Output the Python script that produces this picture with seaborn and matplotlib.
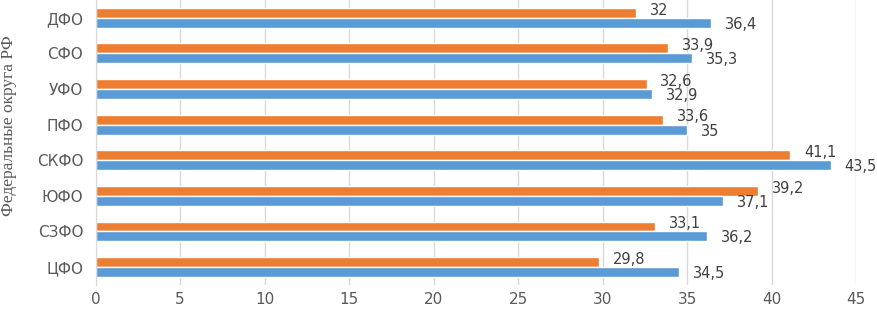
import pandas as pd
import matplotlib.pyplot as plt
import seaborn as sns

# Data
districts = ["ДФО", "СФО", "УФО", "ПФО", "СКФО", "ЮФО", "СЗФО", "ЦФО"]
series_orange = [32, 33.9, 32.6, 33.6, 41.1, 39.2, 33.1, 29.8]
series_blue = [36.4, 35.3, 32.9, 35, 43.5, 37.1, 36.2, 34.5]
series_names = ["Ряд 2", "Ряд 1"]
x_ticks = [0, 5, 10, 15, 20, 25, 30, 35, 40, 45]

ORANGE = "#ED7D31"
BLUE = "#5B9BD5"

df = pd.DataFrame({
    "district": districts * 2,
    "value": series_orange + series_blue,
    "series": [series_names[0]] * len(districts) + [series_names[1]] * len(districts),
})

sns.set_style("white")
plt.rcParams["font.family"] = ["DejaVu Sans"]

fig = plt.figure(figsize=(8.78, 3.10), dpi=100)
ax = fig.add_axes([0.109, 0.081, 0.866, 0.919])

sns.barplot(data=df, x="value", y="district", hue="series", order=districts,
            hue_order=series_names, palette=[ORANGE, BLUE], orient="h",
            width=0.56, legend=False, ax=ax, saturation=1)

ax.set_xlim(0, 45)
ax.set_ylim(len(districts) - 0.5, -0.5)
ax.set_xticks(x_ticks)
ax.set_xticklabels([str(t) for t in x_ticks])
ax.grid(axis="x", color="#d9d9d9", linewidth=1)
ax.set_axisbelow(True)
for s in ["top", "right", "bottom"]:
    ax.spines[s].set_visible(False)
ax.spines["left"].set_color("#d9d9d9")
ax.tick_params(axis="both", length=0, colors="#595959", labelsize=11)
ax.tick_params(axis="x", pad=5)
ax.tick_params(axis="y", pad=9)
ax.set_xlabel("")
ax.set_ylabel("Федеральные округа РФ", family="Liberation Serif", fontsize=12.5,
              color="#595959")
ax.yaxis.set_label_coords(-0.104, 0.56)

# value labels, comma decimals; orange nudged up, blue nudged down
for cont, dy in zip(ax.containers, [2, -1]):
    for bar, v in zip(cont, cont.datavalues):
        ax.annotate(f"{v:g}".replace(".", ","),
                    (bar.get_width(), bar.get_y() + bar.get_height() / 2),
                    xytext=(10, dy), textcoords="offset points",
                    ha="left", va="center", fontsize=10.5, color="#404040")

fig.savefig("out.png", dpi=100)
